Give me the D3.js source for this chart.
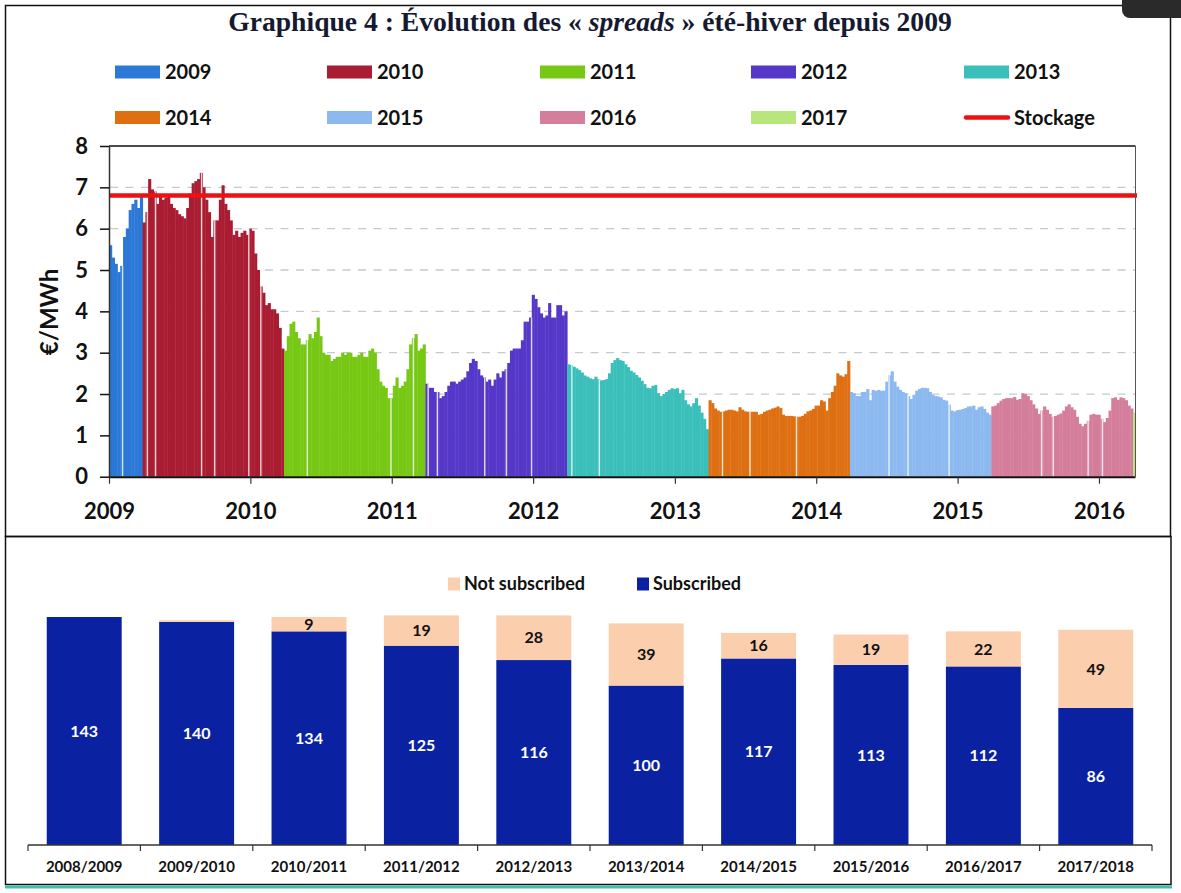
<!DOCTYPE html>
<html><head><meta charset="utf-8">
<script src="https://cdn.jsdelivr.net/npm/d3@7"></script>
<style>body{margin:0;background:#fff}svg{display:block}</style>
</head><body>
<svg id="chart" width="1181" height="893"></svg>
<script>
// ================= DATA : top chart (€/MWh, ~weekly readings per storage year) =================
const spreadYears = ["2009","2010","2011","2012","2013","2014","2015","2016","2017"];
const yearColors = ["#2b78d6","#a91c32","#76c814","#5538c8","#3bbfba","#de6f12","#8cb9ef","#d47e9b","#b6e67c"];
const segmentStarts = ["2009-01-01","2009-03-29","2010-03-29","2011-03-29","2012-03-29","2013-03-29","2014-03-29","2015-03-29","2016-03-29"];
const segmentEnds   = ["2009-03-29","2010-03-29","2011-03-29","2012-03-29","2013-03-29","2014-03-29","2015-03-29","2016-03-29","2016-04-03"];

const spread2009 = [5.6,5.3,5.15,4.95,5.1,5.8,6.0,6.45,6.6,6.7,6.5,6.8];
const spread2010 = [6.15,6.4,7.2,6.95,6.9,6.6,6.8,6.7,6.75,6.8,6.6,6.5,6.45,6.35,6.3,6.25,6.5,6.85,7.1,7.15,
  7.2,7.35,7.0,6.7,6.4,5.8,6.2,6.2,6.7,7.05,6.6,6.45,6.2,5.85,5.95,5.8,5.9,5.95,5.85,6.0,
  5.95,5.4,5.0,4.6,4.45,4.15,4.2,4.05,4.05,3.95,3.6,3.1];
const spread2011 = [3.05,3.4,3.7,3.75,3.5,3.35,3.2,3.2,3.3,3.45,3.35,3.5,3.85,3.4,3.0,2.95,2.95,2.8,2.85,2.9,
  2.9,3.0,2.95,3.0,3.0,2.9,2.9,2.95,3.0,2.9,2.9,3.05,3.1,3.0,2.6,2.3,2.2,2.15,1.9,1.9,
  2.2,2.4,2.15,2.2,2.3,2.6,3.2,3.35,3.45,3.05,3.1,3.2];
const spread2012 = [2.25,2.15,2.15,2.05,2.05,1.9,1.95,2.05,2.2,2.3,2.3,2.25,2.3,2.35,2.4,2.55,2.75,2.85,2.8,2.6,
  2.45,2.4,2.3,2.35,2.2,2.35,2.5,2.4,2.55,2.6,2.75,3.05,3.1,3.1,3.1,3.3,3.75,3.75,3.85,4.4,
  4.3,4.1,3.95,3.85,3.9,4.2,3.85,3.85,4.15,4.15,3.9,4.0];
const spread2013 = [2.72,2.7,2.66,2.62,2.58,2.52,2.45,2.42,2.38,2.36,2.42,2.36,2.33,2.34,2.36,2.5,2.75,2.82,2.87,2.82,
  2.8,2.72,2.65,2.56,2.52,2.46,2.4,2.32,2.24,2.15,2.14,2.2,2.22,2.02,1.95,2.0,2.05,2.1,2.14,2.12,
  2.14,2.02,2.1,1.85,1.75,1.7,1.78,1.9,1.72,1.55,1.4,1.15];
const spread2014 = [1.85,1.78,1.65,1.6,1.57,1.58,1.6,1.62,1.62,1.6,1.58,1.68,1.62,1.58,1.57,1.57,1.57,1.57,1.5,1.52,
  1.57,1.6,1.62,1.65,1.67,1.7,1.66,1.5,1.47,1.47,1.47,1.46,1.45,1.45,1.47,1.52,1.58,1.6,1.64,1.72,
  1.72,1.85,1.82,1.6,1.9,2.05,2.2,2.5,2.45,2.42,2.48,2.8];
const spread2015 = [2.05,2.02,1.95,1.95,2.05,2.05,2.12,1.85,2.1,2.08,2.1,2.08,2.08,2.3,2.45,2.55,2.3,2.18,2.1,2.05,
  2.02,1.95,1.88,1.98,2.08,2.12,2.15,2.15,2.14,2.05,1.98,1.95,1.94,1.92,1.86,1.84,1.74,1.6,1.58,1.61,
  1.62,1.64,1.66,1.7,1.7,1.72,1.62,1.68,1.7,1.64,1.55,1.5];
const spread2016 = [1.7,1.72,1.78,1.84,1.88,1.9,1.9,1.9,1.93,1.86,1.88,2.02,2.0,1.95,1.85,1.75,1.65,1.52,1.6,1.7,
  1.62,1.52,1.45,1.47,1.5,1.53,1.6,1.7,1.75,1.68,1.62,1.45,1.28,1.22,1.28,1.35,1.5,1.52,1.5,1.5,
  1.4,1.32,1.42,1.6,1.9,1.92,1.86,1.92,1.9,1.85,1.72,1.65];
const spread2017 = [1.55];
const spreadValues = [spread2009,spread2010,spread2011,spread2012,spread2013,spread2014,spread2015,spread2016,spread2017];

const storageLabel = "Stockage";
const storageValue = 6.8;
const gapDates = ["2009-02-05","2009-04-10","2009-05-01","2009-08-28","2009-10-01","2009-12-28","2010-01-28",
  "2010-05-28","2010-12-30","2011-02-26","2011-04-05","2011-04-29","2011-08-29","2011-10-24","2011-12-28",
  "2012-04-10","2012-06-20","2013-05-04","2013-07-14","2013-11-11","2014-07-08","2014-08-26","2014-12-10",
  "2015-08-06","2015-09-05","2015-12-04","2016-01-10"];
const xTickYears = ["2009","2010","2011","2012","2013","2014","2015","2016"];
const yTicks = [0,1,2,3,4,5,6,7,8];
const yGrid = [1,2,3,4,5,6,7];

// ================= DATA : bottom chart =================
const seasons = ["2008/2009","2009/2010","2010/2011","2011/2012","2012/2013","2013/2014","2014/2015","2015/2016","2016/2017","2017/2018"];
const subscribed    = [143,140,134,125,116,100,117,113,112,86];
const notSubscribed = [0,1,9,19,28,39,16,19,22,49];
const seriesKeys = ["subscribed","notSubscribed"];
const seriesLabels = ["Subscribed","Not subscribed"];
const seriesColors = ["#0a22a2","#fbcfae"];

// ================= DRAW =================
const svg = d3.select("#chart");
const FONT = "Lato, 'Open Sans', sans-serif";
const parse = d3.utcParse("%Y-%m-%d");

// frames
svg.append("rect").attr("x",5.5).attr("y",5.5).attr("width",1165).attr("height",531)
  .attr("fill","none").attr("stroke","#111").attr("stroke-width",1.5);
svg.append("rect").attr("x",5.5).attr("y",536.5).attr("width",1165.5).attr("height",348)
  .attr("fill","none").attr("stroke","#111").attr("stroke-width",1.5);
svg.append("line").attr("x1",5).attr("x2",1172).attr("y1",887).attr("y2",887)
  .attr("stroke","#3fbfae").attr("stroke-width",3);
svg.append("rect").attr("x",1122).attr("y",-10).attr("width",70).attr("height",28).attr("rx",8)
  .attr("fill","#2a2a2a");

// title
const title = svg.append("text").attr("x",590).attr("y",31).attr("text-anchor","middle")
  .attr("font-family","'Liberation Serif', 'DejaVu Serif', serif").attr("font-weight","bold")
  .attr("font-size",20).attr("fill","#161a30");
title.append("tspan").text("Graphique 4 : Évolution des « ");
title.append("tspan").attr("font-style","italic").text("spreads");
title.append("tspan").text(" » été-hiver depuis 2009");
const tw = title.node().getComputedTextLength();
title.attr("font-size", 20 * 724 / tw);

// legend (top)
const legendItems = spreadYears.map((yr,k)=>({label:yr,color:yearColors[k],type:"rect"}))
  .concat([{label:storageLabel,color:"#ee1111",type:"line"}]);
const legCols = [115,327,540,751,964], legRows = [72,117.5];
const leg = svg.append("g").selectAll("g").data(legendItems).join("g")
  .attr("transform",(d,i)=>`translate(${legCols[i%5]},${legRows[Math.floor(i/5)]})`);
leg.filter(d=>d.type==="rect").append("rect").attr("x",0).attr("y",-6.5).attr("width",45).attr("height",13)
  .attr("fill",d=>d.color);
leg.filter(d=>d.type==="line").append("line").attr("x1",2).attr("x2",44).attr("y1",0).attr("y2",0)
  .attr("stroke",d=>d.color).attr("stroke-width",4.5).attr("stroke-linecap","round");
leg.append("text").attr("x",50).attr("y",0).attr("dy","0.36em").attr("font-family",FONT)
  .attr("font-weight","bold").attr("font-size",20).attr("fill","#111").text(d=>d.label);

// scales top
const x = d3.scaleUtc().domain([parse("2009-01-01"), parse("2016-04-03")]).range([109,1135]);
const y = d3.scaleLinear().domain([0,8]).range([476.7,146]);

// grid
svg.append("g").selectAll("line").data(yGrid).join("line")
  .attr("x1",110).attr("x2",1135).attr("y1",d=>y(d)).attr("y2",d=>y(d))
  .attr("stroke","#c3cad2").attr("stroke-width",1.3).attr("stroke-dasharray","8,7.5");

// bars
const segments = spreadYears.map((yr,k)=>({year:yr,color:yearColors[k],start:parse(segmentStarts[k]),end:parse(segmentEnds[k]),values:spreadValues[k]}));
const bars = [];
segments.forEach(s=>{
  const n = s.values.length, span = s.end - s.start;
  s.values.forEach((v,i)=>bars.push({a:new Date(+s.start+span*i/n), b:new Date(+s.start+span*(i+1)/n), v, color:s.color}));
});
svg.append("g").selectAll("rect").data(bars).join("rect")
  .attr("x",d=>x(d.a)).attr("width",d=>Math.max(0.5,x(d.b)-x(d.a)+0.4))
  .attr("y",d=>y(d.v)).attr("height",d=>y(0)-y(d.v)).attr("fill",d=>d.color);

// data gaps (missing days)
function valueAt(dt){
  for(const s of segments){
    if(dt>=s.start && dt<s.end){
      const i = Math.floor((dt-s.start)/(s.end-s.start)*s.values.length);
      return s.values[i];
    }
  }
  return 0;
}
svg.append("g").selectAll("rect").data(gapDates.map(parse)).join("rect")
  .attr("x",d=>x(d)-0.7).attr("width",1.4).attr("y",d=>y(valueAt(d))).attr("height",d=>y(0)-y(valueAt(d)))
  .attr("fill","#fff").attr("opacity",0.8);

// storage line
svg.append("line").attr("x1",109).attr("x2",1137).attr("y1",y(storageValue)).attr("y2",y(storageValue))
  .attr("stroke","#ee1111").attr("stroke-width",4.5);

// top border & right border
svg.append("line").attr("x1",109).attr("x2",1135.5).attr("y1",y(8)).attr("y2",y(8)).attr("stroke","#111").attr("stroke-width",1.5);
svg.append("line").attr("x1",1135.5).attr("x2",1135.5).attr("y1",y(8)).attr("y2",y(0)).attr("stroke","#555").attr("stroke-width",1);

// axes top
const yAxis = svg.append("g").attr("transform","translate(109,0)")
  .call(d3.axisLeft(y).tickValues(yTicks).tickSize(9).tickSizeOuter(0).tickPadding(12).tickFormat(d3.format("d")));
yAxis.select(".domain").attr("stroke","#333").attr("stroke-width",1.5);
yAxis.selectAll(".tick line").attr("stroke","#111").attr("stroke-width",1.5);
yAxis.selectAll("text").attr("font-family",FONT).attr("font-weight","bold").attr("font-size",22).attr("fill","#111");

const xAxis = svg.append("g").attr("transform",`translate(0,${y(0)})`)
  .call(d3.axisBottom(x).tickValues(xTickYears.map(s=>parse(s+"-01-01"))).tickSize(7).tickSizeOuter(0).tickPadding(20).tickFormat(d3.utcFormat("%Y")));
xAxis.select(".domain").attr("stroke","#111").attr("stroke-width",2);
xAxis.selectAll(".tick line").attr("stroke","#333").attr("stroke-width",1.2);
xAxis.selectAll("text").attr("font-family",FONT).attr("font-weight","bold").attr("font-size",22).attr("fill","#111");

svg.append("text").attr("transform","translate(49,312) rotate(-90)").attr("text-anchor","middle")
  .attr("dy","0.36em").attr("font-family",FONT).attr("font-weight","bold").attr("font-size",24).attr("fill","#111")
  .text("€/MWh");

// ================= bottom chart =================
const table = seasons.map((s,i)=>({season:s, subscribed:subscribed[i], notSubscribed:notSubscribed[i]}));
const stack = d3.stack().keys(seriesKeys)(table);
const xb = d3.scaleBand().domain(seasons).range([28,1152]).paddingInner(0.333).paddingOuter(0.1667);
const yb = d3.scaleLinear().domain([0,150]).range([845, 845-150*1.5944]);

svg.append("g").selectAll("g").data(stack).join("g").attr("fill",(d,i)=>seriesColors[i])
  .selectAll("rect").data(d=>d).join("rect")
  .attr("x",d=>xb(d.data.season)).attr("width",xb.bandwidth())
  .attr("y",d=>yb(d[1])).attr("height",d=>yb(d[0])-yb(d[1]));

// labels
stack.forEach((layer,k)=>{
  svg.append("g").selectAll("text").data(layer.filter(d=>(d[1]-d[0])>=5)).join("text")
    .attr("x",d=>xb(d.data.season)+xb.bandwidth()/2).attr("y",d=>yb((d[0]+d[1])/2))
    .attr("dy","0.36em").attr("text-anchor","middle").attr("font-family",FONT).attr("font-weight","bold")
    .attr("font-size",16).attr("fill",k===0?"#fff":"#111").text(d=>d[1]-d[0]);
});

// bottom axis
const bAxis = svg.append("g").attr("transform","translate(0,845)");
bAxis.append("line").attr("x1",28).attr("x2",1152).attr("stroke","#333").attr("stroke-width",1.5);
const bounds = seasons.map(s=>xb(s)-xb.step()*xb.paddingInner()/2).concat([1152]);
bounds[0] = 28;
bAxis.selectAll("line.tk").data(bounds).join("line").attr("class","tk")
  .attr("x1",d=>d).attr("x2",d=>d).attr("y1",0).attr("y2",6).attr("stroke","#333").attr("stroke-width",1.2);
bAxis.selectAll("text").data(seasons).join("text")
  .attr("x",d=>xb(d)+xb.bandwidth()/2).attr("y",22).attr("dy","0.36em").attr("text-anchor","middle")
  .attr("font-family",FONT).attr("font-weight","bold").attr("font-size",15).attr("fill","#111").text(d=>d);

// bottom legend
const bLeg = [{label:seriesLabels[1],color:seriesColors[1],x:448},{label:seriesLabels[0],color:seriesColors[0],x:637}];
const bl = svg.append("g").selectAll("g").data(bLeg).join("g").attr("transform",d=>`translate(${d.x},584)`);
bl.append("rect").attr("x",0).attr("y",-6.5).attr("width",12).attr("height",13).attr("fill",d=>d.color);
bl.append("text").attr("x",16).attr("dy","0.36em").attr("font-family",FONT).attr("font-weight","bold")
  .attr("font-size",18).attr("fill","#111").text(d=>d.label);
</script>
</body></html>
